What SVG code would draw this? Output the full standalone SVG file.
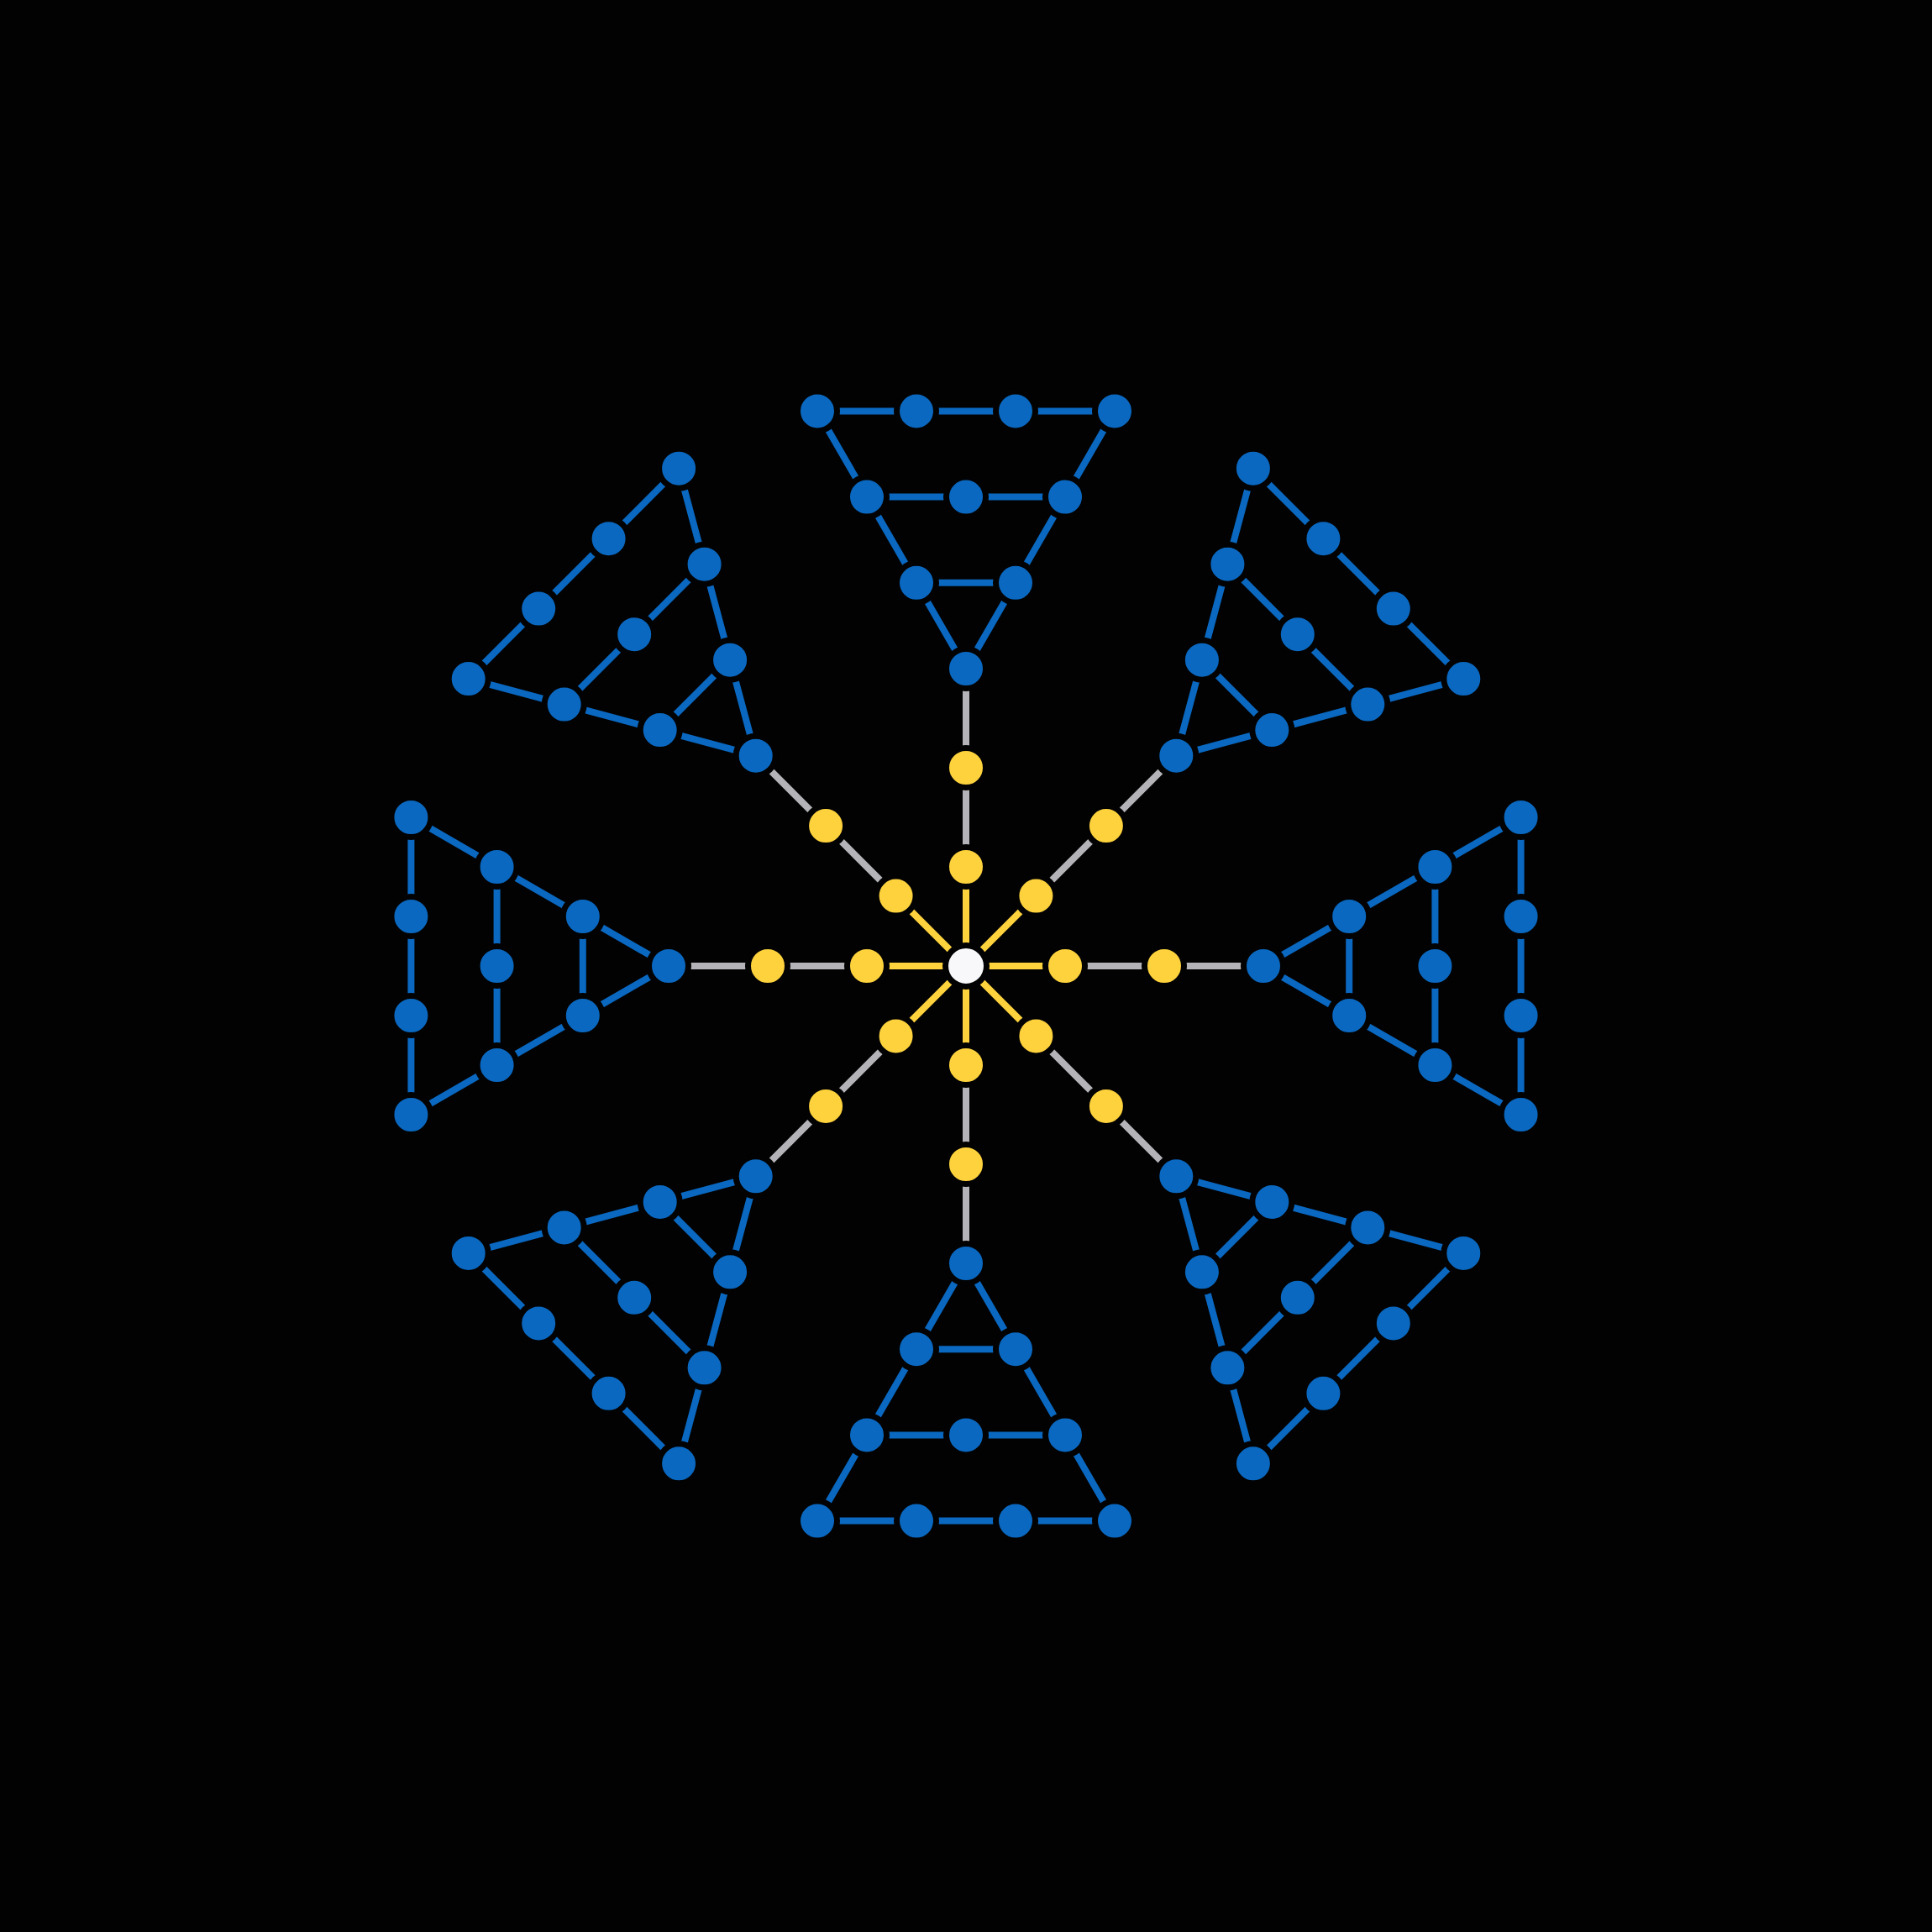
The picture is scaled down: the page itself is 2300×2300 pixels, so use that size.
<svg xmlns="http://www.w3.org/2000/svg" width="2300" height="2300" viewBox="0 0 2300 2300">
<style>
.ey{stroke:#fdd23c;stroke-width:8;fill:none}
.eg{stroke:#b4b4b8;stroke-width:8;fill:none}
.eb{stroke:#0a68c0;stroke-width:8;fill:none}
circle{stroke:#020203;stroke-width:7}
.nw circle{fill:#f8f8fa;r:24.5}
.ny circle{fill:#fdd23c}
.nb circle{fill:#0a68c0}
</style>
<rect x="0" y="0" width="2300" height="2300" fill="#020203"/>
<g id="connectors">
<!-- spoke 0 -->
<line class="ey" x1="1150" y1="1150" x2="1268" y2="1150"/>
<line class="eg" x1="1268" y1="1150" x2="1386" y2="1150"/>
<line class="eg" x1="1386" y1="1150" x2="1504" y2="1150"/>
<polyline class="eb" points="1504,1150 1606.2,1091 1708.4,1032 1810.6,973"/>
<polyline class="eb" points="1504,1150 1606.2,1209 1708.4,1268 1810.6,1327"/>
<line class="eb" x1="1606.2" y1="1091" x2="1606.2" y2="1209"/>
<line class="eb" x1="1708.4" y1="1032" x2="1708.4" y2="1268"/>
<line class="eb" x1="1810.6" y1="973" x2="1810.6" y2="1327"/>
<!-- spoke 90 -->
<line class="ey" x1="1150" y1="1150" x2="1150" y2="1268"/>
<line class="eg" x1="1150" y1="1268" x2="1150" y2="1386"/>
<line class="eg" x1="1150" y1="1386" x2="1150" y2="1504"/>
<polyline class="eb" points="1150,1504 1209,1606.2 1268,1708.4 1327,1810.6"/>
<polyline class="eb" points="1150,1504 1091,1606.2 1032,1708.4 973,1810.6"/>
<line class="eb" x1="1091" y1="1606.2" x2="1209" y2="1606.2"/>
<line class="eb" x1="1032" y1="1708.4" x2="1268" y2="1708.4"/>
<line class="eb" x1="973" y1="1810.6" x2="1327" y2="1810.6"/>
<!-- spoke 180 -->
<line class="ey" x1="1150" y1="1150" x2="1032" y2="1150"/>
<line class="eg" x1="1032" y1="1150" x2="914" y2="1150"/>
<line class="eg" x1="914" y1="1150" x2="796" y2="1150"/>
<polyline class="eb" points="796,1150 693.8,1209 591.6,1268 489.4,1327"/>
<polyline class="eb" points="796,1150 693.8,1091 591.6,1032 489.4,973"/>
<line class="eb" x1="693.8" y1="1091" x2="693.8" y2="1209"/>
<line class="eb" x1="591.6" y1="1032" x2="591.6" y2="1268"/>
<line class="eb" x1="489.4" y1="973" x2="489.4" y2="1327"/>
<!-- spoke 270 -->
<line class="ey" x1="1150" y1="1150" x2="1150" y2="1032"/>
<line class="eg" x1="1150" y1="1032" x2="1150" y2="914"/>
<line class="eg" x1="1150" y1="914" x2="1150" y2="796"/>
<polyline class="eb" points="1150,796 1091,693.8 1032,591.6 973,489.4"/>
<polyline class="eb" points="1150,796 1209,693.8 1268,591.6 1327,489.4"/>
<line class="eb" x1="1091" y1="693.8" x2="1209" y2="693.8"/>
<line class="eb" x1="1032" y1="591.6" x2="1268" y2="591.6"/>
<line class="eb" x1="973" y1="489.4" x2="1327" y2="489.4"/>
<!-- spoke 45 -->
<line class="ey" x1="1150" y1="1150" x2="1233.4" y2="1233.4"/>
<line class="eg" x1="1233.4" y1="1233.4" x2="1316.9" y2="1316.9"/>
<line class="eg" x1="1316.9" y1="1316.9" x2="1400.3" y2="1400.3"/>
<polyline class="eb" points="1400.3,1400.3 1514.3,1430.9 1628.3,1461.4 1742.3,1491.9"/>
<polyline class="eb" points="1400.3,1400.3 1430.9,1514.3 1461.4,1628.3 1491.9,1742.3"/>
<line class="eb" x1="1514.3" y1="1430.9" x2="1430.9" y2="1514.3"/>
<line class="eb" x1="1628.3" y1="1461.4" x2="1461.4" y2="1628.3"/>
<line class="eb" x1="1742.3" y1="1491.9" x2="1491.9" y2="1742.3"/>
<!-- spoke 135 -->
<line class="ey" x1="1150" y1="1150" x2="1066.6" y2="1233.4"/>
<line class="eg" x1="1066.6" y1="1233.4" x2="983.1" y2="1316.9"/>
<line class="eg" x1="983.1" y1="1316.9" x2="899.7" y2="1400.3"/>
<polyline class="eb" points="899.7,1400.3 869.1,1514.3 838.6,1628.3 808.1,1742.3"/>
<polyline class="eb" points="899.7,1400.3 785.7,1430.9 671.7,1461.4 557.7,1491.9"/>
<line class="eb" x1="869.1" y1="1514.3" x2="785.7" y2="1430.9"/>
<line class="eb" x1="838.6" y1="1628.3" x2="671.7" y2="1461.4"/>
<line class="eb" x1="808.1" y1="1742.3" x2="557.7" y2="1491.9"/>
<!-- spoke 225 -->
<line class="ey" x1="1150" y1="1150" x2="1066.6" y2="1066.6"/>
<line class="eg" x1="1066.6" y1="1066.6" x2="983.1" y2="983.1"/>
<line class="eg" x1="983.1" y1="983.1" x2="899.7" y2="899.7"/>
<polyline class="eb" points="899.7,899.7 785.7,869.1 671.7,838.6 557.7,808.1"/>
<polyline class="eb" points="899.7,899.7 869.1,785.7 838.6,671.7 808.1,557.7"/>
<line class="eb" x1="785.7" y1="869.1" x2="869.1" y2="785.7"/>
<line class="eb" x1="671.7" y1="838.6" x2="838.6" y2="671.7"/>
<line class="eb" x1="557.7" y1="808.1" x2="808.1" y2="557.7"/>
<!-- spoke 315 -->
<line class="ey" x1="1150" y1="1150" x2="1233.4" y2="1066.6"/>
<line class="eg" x1="1233.4" y1="1066.6" x2="1316.9" y2="983.1"/>
<line class="eg" x1="1316.9" y1="983.1" x2="1400.3" y2="899.7"/>
<polyline class="eb" points="1400.3,899.7 1430.9,785.7 1461.4,671.7 1491.9,557.7"/>
<polyline class="eb" points="1400.3,899.7 1514.3,869.1 1628.3,838.6 1742.3,808.1"/>
<line class="eb" x1="1430.9" y1="785.7" x2="1514.3" y2="869.1"/>
<line class="eb" x1="1461.4" y1="671.7" x2="1628.3" y2="838.6"/>
<line class="eb" x1="1491.9" y1="557.7" x2="1742.3" y2="808.1"/>
</g>
<g id="nodes">
<g id="center" class="nw"><circle cx="1150" cy="1150" r="24.5"/></g>
<!-- spoke 0 -->
<g id="s0-y1" class="ny"><circle cx="1268" cy="1150" r="23.5"/></g>
<g id="s0-y2" class="ny"><circle cx="1386" cy="1150" r="23.5"/></g>
<g id="s0-a" class="nb"><circle cx="1504" cy="1150" r="23.5"/></g>
<g id="s0-b1" class="nb"><circle cx="1606.2" cy="1091" r="23.5"/></g>
<g id="s0-b2" class="nb"><circle cx="1606.2" cy="1209" r="23.5"/></g>
<g id="s0-c1" class="nb"><circle cx="1708.4" cy="1032" r="23.5"/></g>
<g id="s0-c2" class="nb"><circle cx="1708.4" cy="1150" r="23.5"/></g>
<g id="s0-c3" class="nb"><circle cx="1708.4" cy="1268" r="23.5"/></g>
<g id="s0-d1" class="nb"><circle cx="1810.6" cy="973" r="23.5"/></g>
<g id="s0-d2" class="nb"><circle cx="1810.6" cy="1091" r="23.5"/></g>
<g id="s0-d3" class="nb"><circle cx="1810.6" cy="1209" r="23.5"/></g>
<g id="s0-d4" class="nb"><circle cx="1810.6" cy="1327" r="23.5"/></g>
<!-- spoke 90 -->
<g id="s90-y1" class="ny"><circle cx="1150" cy="1268" r="23.5"/></g>
<g id="s90-y2" class="ny"><circle cx="1150" cy="1386" r="23.5"/></g>
<g id="s90-a" class="nb"><circle cx="1150" cy="1504" r="23.5"/></g>
<g id="s90-b1" class="nb"><circle cx="1209" cy="1606.2" r="23.5"/></g>
<g id="s90-b2" class="nb"><circle cx="1091" cy="1606.2" r="23.5"/></g>
<g id="s90-c1" class="nb"><circle cx="1268" cy="1708.4" r="23.5"/></g>
<g id="s90-c2" class="nb"><circle cx="1150" cy="1708.4" r="23.5"/></g>
<g id="s90-c3" class="nb"><circle cx="1032" cy="1708.4" r="23.5"/></g>
<g id="s90-d1" class="nb"><circle cx="1327" cy="1810.6" r="23.5"/></g>
<g id="s90-d2" class="nb"><circle cx="1209" cy="1810.6" r="23.5"/></g>
<g id="s90-d3" class="nb"><circle cx="1091" cy="1810.6" r="23.5"/></g>
<g id="s90-d4" class="nb"><circle cx="973" cy="1810.6" r="23.5"/></g>
<!-- spoke 180 -->
<g id="s180-y1" class="ny"><circle cx="1032" cy="1150" r="23.5"/></g>
<g id="s180-y2" class="ny"><circle cx="914" cy="1150" r="23.5"/></g>
<g id="s180-a" class="nb"><circle cx="796" cy="1150" r="23.5"/></g>
<g id="s180-b1" class="nb"><circle cx="693.8" cy="1209" r="23.5"/></g>
<g id="s180-b2" class="nb"><circle cx="693.8" cy="1091" r="23.5"/></g>
<g id="s180-c1" class="nb"><circle cx="591.6" cy="1268" r="23.5"/></g>
<g id="s180-c2" class="nb"><circle cx="591.6" cy="1150" r="23.5"/></g>
<g id="s180-c3" class="nb"><circle cx="591.6" cy="1032" r="23.5"/></g>
<g id="s180-d1" class="nb"><circle cx="489.4" cy="1327" r="23.5"/></g>
<g id="s180-d2" class="nb"><circle cx="489.4" cy="1209" r="23.5"/></g>
<g id="s180-d3" class="nb"><circle cx="489.4" cy="1091" r="23.5"/></g>
<g id="s180-d4" class="nb"><circle cx="489.4" cy="973" r="23.5"/></g>
<!-- spoke 270 -->
<g id="s270-y1" class="ny"><circle cx="1150" cy="1032" r="23.5"/></g>
<g id="s270-y2" class="ny"><circle cx="1150" cy="914" r="23.5"/></g>
<g id="s270-a" class="nb"><circle cx="1150" cy="796" r="23.5"/></g>
<g id="s270-b1" class="nb"><circle cx="1091" cy="693.8" r="23.5"/></g>
<g id="s270-b2" class="nb"><circle cx="1209" cy="693.8" r="23.5"/></g>
<g id="s270-c1" class="nb"><circle cx="1032" cy="591.6" r="23.5"/></g>
<g id="s270-c2" class="nb"><circle cx="1150" cy="591.6" r="23.5"/></g>
<g id="s270-c3" class="nb"><circle cx="1268" cy="591.6" r="23.5"/></g>
<g id="s270-d1" class="nb"><circle cx="973" cy="489.4" r="23.5"/></g>
<g id="s270-d2" class="nb"><circle cx="1091" cy="489.4" r="23.5"/></g>
<g id="s270-d3" class="nb"><circle cx="1209" cy="489.4" r="23.5"/></g>
<g id="s270-d4" class="nb"><circle cx="1327" cy="489.4" r="23.5"/></g>
<!-- spoke 45 -->
<g id="s45-y1" class="ny"><circle cx="1233.4" cy="1233.4" r="23.5"/></g>
<g id="s45-y2" class="ny"><circle cx="1316.9" cy="1316.9" r="23.5"/></g>
<g id="s45-a" class="nb"><circle cx="1400.3" cy="1400.3" r="23.5"/></g>
<g id="s45-b1" class="nb"><circle cx="1514.3" cy="1430.9" r="23.5"/></g>
<g id="s45-b2" class="nb"><circle cx="1430.9" cy="1514.3" r="23.5"/></g>
<g id="s45-c1" class="nb"><circle cx="1628.3" cy="1461.4" r="23.5"/></g>
<g id="s45-c2" class="nb"><circle cx="1544.8" cy="1544.8" r="23.5"/></g>
<g id="s45-c3" class="nb"><circle cx="1461.4" cy="1628.3" r="23.5"/></g>
<g id="s45-d1" class="nb"><circle cx="1742.3" cy="1491.9" r="23.5"/></g>
<g id="s45-d2" class="nb"><circle cx="1658.8" cy="1575.4" r="23.5"/></g>
<g id="s45-d3" class="nb"><circle cx="1575.4" cy="1658.8" r="23.5"/></g>
<g id="s45-d4" class="nb"><circle cx="1491.9" cy="1742.3" r="23.5"/></g>
<!-- spoke 135 -->
<g id="s135-y1" class="ny"><circle cx="1066.6" cy="1233.4" r="23.5"/></g>
<g id="s135-y2" class="ny"><circle cx="983.1" cy="1316.9" r="23.5"/></g>
<g id="s135-a" class="nb"><circle cx="899.7" cy="1400.3" r="23.5"/></g>
<g id="s135-b1" class="nb"><circle cx="869.1" cy="1514.3" r="23.5"/></g>
<g id="s135-b2" class="nb"><circle cx="785.7" cy="1430.9" r="23.5"/></g>
<g id="s135-c1" class="nb"><circle cx="838.6" cy="1628.3" r="23.5"/></g>
<g id="s135-c2" class="nb"><circle cx="755.2" cy="1544.8" r="23.5"/></g>
<g id="s135-c3" class="nb"><circle cx="671.7" cy="1461.4" r="23.5"/></g>
<g id="s135-d1" class="nb"><circle cx="808.1" cy="1742.3" r="23.5"/></g>
<g id="s135-d2" class="nb"><circle cx="724.6" cy="1658.8" r="23.5"/></g>
<g id="s135-d3" class="nb"><circle cx="641.2" cy="1575.4" r="23.5"/></g>
<g id="s135-d4" class="nb"><circle cx="557.7" cy="1491.9" r="23.5"/></g>
<!-- spoke 225 -->
<g id="s225-y1" class="ny"><circle cx="1066.6" cy="1066.6" r="23.5"/></g>
<g id="s225-y2" class="ny"><circle cx="983.1" cy="983.1" r="23.5"/></g>
<g id="s225-a" class="nb"><circle cx="899.7" cy="899.7" r="23.5"/></g>
<g id="s225-b1" class="nb"><circle cx="785.7" cy="869.1" r="23.5"/></g>
<g id="s225-b2" class="nb"><circle cx="869.1" cy="785.7" r="23.5"/></g>
<g id="s225-c1" class="nb"><circle cx="671.7" cy="838.6" r="23.5"/></g>
<g id="s225-c2" class="nb"><circle cx="755.2" cy="755.2" r="23.5"/></g>
<g id="s225-c3" class="nb"><circle cx="838.6" cy="671.7" r="23.5"/></g>
<g id="s225-d1" class="nb"><circle cx="557.7" cy="808.1" r="23.5"/></g>
<g id="s225-d2" class="nb"><circle cx="641.2" cy="724.6" r="23.5"/></g>
<g id="s225-d3" class="nb"><circle cx="724.6" cy="641.2" r="23.5"/></g>
<g id="s225-d4" class="nb"><circle cx="808.1" cy="557.7" r="23.5"/></g>
<!-- spoke 315 -->
<g id="s315-y1" class="ny"><circle cx="1233.4" cy="1066.6" r="23.5"/></g>
<g id="s315-y2" class="ny"><circle cx="1316.9" cy="983.1" r="23.5"/></g>
<g id="s315-a" class="nb"><circle cx="1400.3" cy="899.7" r="23.5"/></g>
<g id="s315-b1" class="nb"><circle cx="1430.9" cy="785.7" r="23.5"/></g>
<g id="s315-b2" class="nb"><circle cx="1514.3" cy="869.1" r="23.5"/></g>
<g id="s315-c1" class="nb"><circle cx="1461.4" cy="671.7" r="23.5"/></g>
<g id="s315-c2" class="nb"><circle cx="1544.8" cy="755.2" r="23.5"/></g>
<g id="s315-c3" class="nb"><circle cx="1628.3" cy="838.6" r="23.5"/></g>
<g id="s315-d1" class="nb"><circle cx="1491.9" cy="557.7" r="23.5"/></g>
<g id="s315-d2" class="nb"><circle cx="1575.4" cy="641.2" r="23.5"/></g>
<g id="s315-d3" class="nb"><circle cx="1658.8" cy="724.6" r="23.5"/></g>
<g id="s315-d4" class="nb"><circle cx="1742.3" cy="808.1" r="23.5"/></g>
</g>
</svg>
